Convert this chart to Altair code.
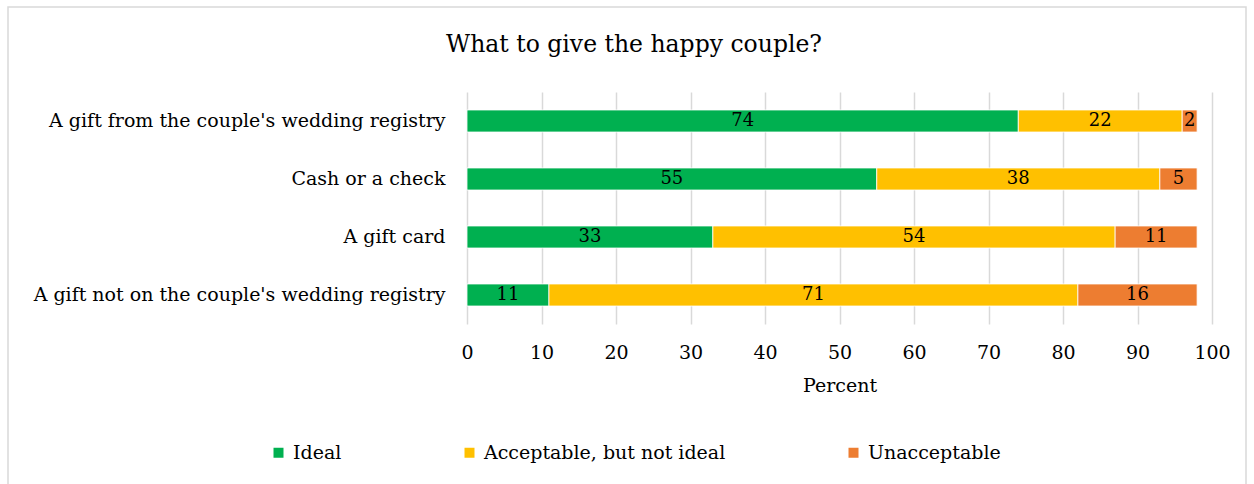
import altair as alt
import pandas as pd

title_text = "What to give the happy couple?"
categories = [
    "A gift from the couple's wedding registry",
    "Cash or a check",
    "A gift card",
    "A gift not on the couple's wedding registry",
]
series = ["Ideal", "Acceptable, but not ideal", "Unacceptable"]
ideal = [74, 55, 33, 11]
acceptable = [22, 38, 54, 71]
unacceptable = [2, 5, 11, 16]
colors = ["#00B050", "#FFC000", "#ED7D31"]
x_ticks = [0, 10, 20, 30, 40, 50, 60, 70, 80, 90, 100]

rows = []
for i, c in enumerate(categories):
    for j, (s, vals) in enumerate(zip(series, [ideal, acceptable, unacceptable])):
        rows.append({"item": c, "series": s, "order": j, "value": vals[i]})
df = pd.DataFrame(rows)

FONT = "DejaVu Serif"

base = alt.Chart(df).transform_stack(
    stack="value", groupby=["item"], as_=["x0", "x1"], sort=[alt.SortField("order", "ascending")]
).transform_calculate(mid="(datum.x0 + datum.x1) / 2")

y_scale = alt.Scale(domain=categories, paddingInner=0.62, paddingOuter=0.31)
x_scale = alt.Scale(domain=[0, 100], nice=False)

bars = base.mark_bar(stroke="white", strokeWidth=0.8).encode(
    x=alt.X("x0:Q", title="Percent", scale=x_scale,
            axis=alt.Axis(values=x_ticks, grid=True, gridColor="#d9d9d9", gridWidth=1.5,
                          ticks=False, domain=False, labelFlush=False, labelFontSize=19,
                          labelFont=FONT, labelColor="#000000", labelPadding=19,
                          titleFont=FONT, titleFontSize=19, titleFontWeight="normal",
                          titleColor="#000000", titlePadding=14)),
    x2="x1:Q",
    y=alt.Y("item:N", sort=categories, title=None, scale=y_scale,
            axis=alt.Axis(labelFontSize=19, labelFont=FONT, labelColor="#000000",
                          labelPadding=22, ticks=False, domain=False, grid=False,
                          labelLimit=500)),
    color=alt.Color("series:N", sort=series,
                    scale=alt.Scale(domain=series, range=colors),
                    legend=alt.Legend(title=None, orient="none", direction="horizontal",
                                      legendX=-198, legendY=351, symbolType="square",
                                      symbolSize=100, symbolStrokeWidth=0, labelFont=FONT,
                                      labelFontSize=19, labelColor="#000000", labelOffset=5,
                                      columnPadding=118, labelLimit=500)),
)

labels = base.mark_text(font=FONT, fontSize=18, color="#000000", baseline="middle").encode(
    x=alt.X("mid:Q", scale=x_scale),
    y=alt.Y("item:N", sort=categories, scale=y_scale),
    text="value:Q",
)

border = alt.Chart(alt.Data(values=[{}])).mark_rect(
    fill=None, stroke="#d9d9d9", strokeWidth=1.5
).encode(
    x=alt.value(8 - 467), x2=alt.value(1246 - 467),
    y=alt.value(7 - 92), y2=alt.value(500 - 92),
)

title = alt.Chart(alt.Data(values=[{}])).mark_text(
    font=FONT, fontSize=23.5, color="#000000", align="center", baseline="middle"
).encode(
    x=alt.value(634 - 467), y=alt.value(45 - 92), text=alt.value(title_text),
)

chart = alt.layer(border, title, bars, labels).properties(
    width=745,
    height=232,
    background="white",
    autosize=alt.AutoSizeParams(type="none"),
    padding={"left": 467, "top": 92, "right": 42, "bottom": 160},
).configure_view(stroke="transparent", strokeWidth=0)

chart.save("out.html", embed_options={"renderer": "svg", "actions": False})
